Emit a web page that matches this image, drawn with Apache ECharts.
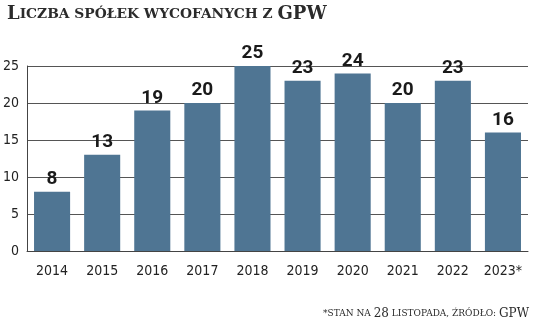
<!DOCTYPE html>
<html><head><meta charset="utf-8">
<script src="https://cdn.jsdelivr.net/npm/echarts@6/dist/echarts.min.js"></script>
<style>html,body{margin:0;padding:0;background:#fff}#c{width:536px;height:322px}</style>
</head><body><div id="c"></div>
<script>
const categories = ['2014','2015','2016','2017','2018','2019','2020','2021','2022','2023*'];
const values = [8,13,19,20,25,23,24,20,23,16];
const yTicks = [0,5,10,15,20,25];

const chart = echarts.init(document.getElementById('c'));
chart.setOption({
  animation: false,
  backgroundColor: '#fff',
  title: [{
    left: 2, top: 0,
    text: '{b|L}{s|ICZBA SPÓŁEK WYCOFANYCH Z }{b|GPW}',
    textStyle: {
      rich: {
        b: {fontFamily: 'DejaVu Serif', fontWeight: 'bold', fontSize: 18, color: '#2b2b2b'},
        s: {fontFamily: 'DejaVu Serif', fontWeight: 'bold', fontSize: 13.8, color: '#2b2b2b'}
      }
    }
  },{
    right: 2, top: 303,
    text: '{s|*STAN NA }{b|28}{s| LISTOPADA, ŹRÓDŁO: }{b|GPW}',
    textStyle: {
      fontWeight: 'normal',
      rich: {
        b: {fontFamily: 'DejaVu Serif', fontWeight: 'normal', fontSize: 12, color: '#2b2b2b'},
        s: {fontFamily: 'DejaVu Serif', fontWeight: 'normal', fontSize: 9, color: '#2b2b2b'}
      }
    }
  }],
  grid: {left: 25, right: 8, top: 66, bottom: 71, containLabel: false},
  xAxis: {
    type: 'category', data: categories,
    axisLine: {show: true, lineStyle: {color: '#444', width: 1}},
    axisTick: {show: false},
    axisLabel: {fontFamily: 'DejaVu Sans Condensed', fontSize: 14, color: '#222', margin: 13}
  },
  yAxis: {
    type: 'value', min: 0, max: 25, interval: 5,
    axisLine: {show: true, lineStyle: {color: '#444', width: 1}},
    axisTick: {show: false},
    splitLine: {show: true, lineStyle: {color: '#555', width: 1}},
    axisLabel: {fontFamily: 'DejaVu Sans Condensed', fontSize: 14, color: '#222', margin: 8,
      formatter: v => yTicks.includes(v) ? String(v) : ''}
  },
  series: [{
    type: 'bar', data: values, barWidth: '72%',
    itemStyle: {color: '#4f7593'},
    label: {show: true, position: 'top', distance: 3,
      fontFamily: 'Roboto', fontWeight: 'bold', fontSize: 19, color: '#1a1a1a'}
  }]
});
</script></body></html>
